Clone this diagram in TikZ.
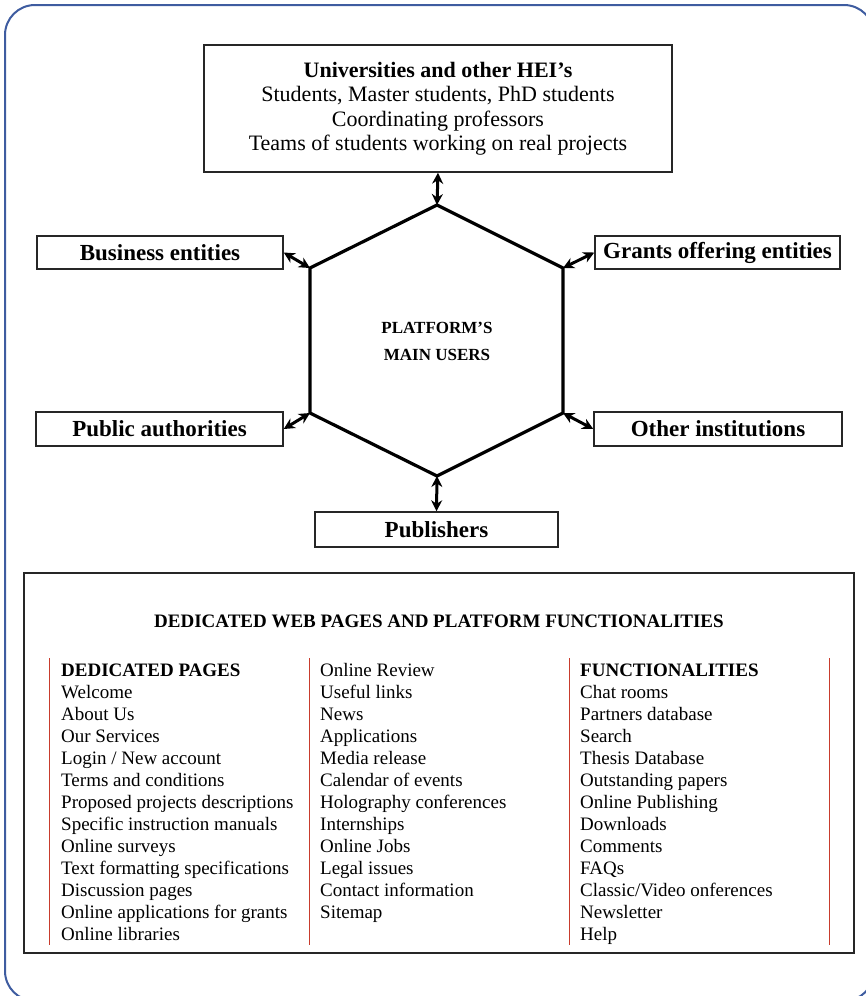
\documentclass[tikz,border=0pt]{standalone}
\usepackage{fontspec}
\setmainfont{Liberation Serif}
\usetikzlibrary{arrows.meta}
\definecolor{frameblue}{RGB}{62,92,160}
\definecolor{colred}{RGB}{200,60,45}

\tikzset{
  userbox/.style={draw=black!85, line width=1.5pt, inner sep=0pt,
    font=\fontsize{23}{26}\selectfont\bfseries},
  link/.style={line width=3pt,
    {Stealth[length=11pt,width=11pt]}-{Stealth[length=11pt,width=11pt]}},
  item/.style={anchor=base west, inner sep=0pt, font=\fontsize{19}{22}\selectfont},
}

\begin{document}
\begin{tikzpicture}[x=1pt,y=-1pt]
        \useasboundingbox (0,0) rectangle (865,996);
        \draw [frameblue, line width=2pt, rounded corners=30pt] (5,5) rectangle (874,1001); % frame

        % hexagon of the main users
        \coordinate (hT)  at (437,205);
        \coordinate (hUR) at (563,268);
        \coordinate (hLR) at (563,413);
        \coordinate (hB)  at (437,476);
        \coordinate (hLL) at (310,413);
        \coordinate (hUL) at (310,268);
        \draw [line width=3.2pt, line join=miter] (hT) -- (hUR) -- (hLR) -- (hB) -- (hLL) -- (hUL) -- cycle;
        \node [align=center, font=\fontsize{17}{27}\selectfont\bfseries] (hub) at (437,341) {PLATFORM'S\\MAIN USERS};

        % users
        \node [userbox, minimum width=468pt, minimum height=127pt, align=center,
               font=\fontsize{22}{24.5}\selectfont] (univ) at (438,108.5)
              {\textbf{Universities and other HEI's}\\Students, Master students, PhD students\\
               Coordinating professors\\Teams of students working on real projects};
        \node [userbox, minimum width=246pt, minimum height=33pt] (business)   at (160,252.5) {Business entities};
        \node [userbox, minimum width=245pt, minimum height=33pt] (grants)     at (717.5,252.5) {Grants offering entities};
        \node [userbox, minimum width=247pt, minimum height=34pt] (pubauth)    at (159.5,429) {Public authorities};
        \node [userbox, minimum width=248pt, minimum height=34pt] (otherinst)  at (718,429) {Other institutions};
        \node [userbox, minimum width=243pt, minimum height=35pt] (publishers) at (436.5,529.5) {Publishers};

        \draw [link] (univ.south)     -- (hT);        %
        \draw [link] (business.east)  -- (hUL);       %
        \draw [link] (hUR)            -- (grants.west);
        \draw [link] (pubauth.east)   -- (hLL);       %
        \draw [link] (hLR)            -- (otherinst.west);
        \draw [link] (hB)             -- (publishers.north);

        % web pages and functionalities
        \node [draw=black!85, line width=1.5pt, minimum width=830pt, minimum height=380pt, inner sep=0pt] (webbox) at (439,763) {};
        \node [anchor=base, inner sep=0pt, font=\fontsize{19}{22}\selectfont\bfseries] (webtitle) at (439,627)
              {DEDICATED WEB PAGES AND PLATFORM FUNCTIONALITIES};
        \foreach \x in {49,309,569,829}
          \draw [colred, line width=1pt] (\x,658) -- (\x,945);

        \foreach \t [count=\i] in {\textbf{DEDICATED PAGES}, Welcome, About Us, Our Services, Login / New account,
            Terms and conditions, Proposed projects descriptions, Specific instruction manuals, Online surveys,
            Text formatting specifications, Discussion pages, Online applications for grants, Online libraries}
          \node [item] (pg\i) at (61,{676+22.08*(\i-1)}) {\t};
        \foreach \t [count=\i] in {Online Review, Useful links, News, Applications, Media release, Calendar of events,
            Holography conferences, Internships, Online Jobs, Legal issues, Contact information, Sitemap}
          \node [item] (pm\i) at (320,{676+22.08*(\i-1)}) {\t};
        \foreach \t [count=\i] in {\textbf{FUNCTIONALITIES}, Chat rooms, Partners database, Search, Thesis Database,
            Outstanding papers, Online Publishing, Downloads, Comments, FAQs, Classic/Video onferences, Newsletter, Help}
          \node [item] (fn\i) at (580,{676+22.08*(\i-1)}) {\t};
\end{tikzpicture}
\end{document}
